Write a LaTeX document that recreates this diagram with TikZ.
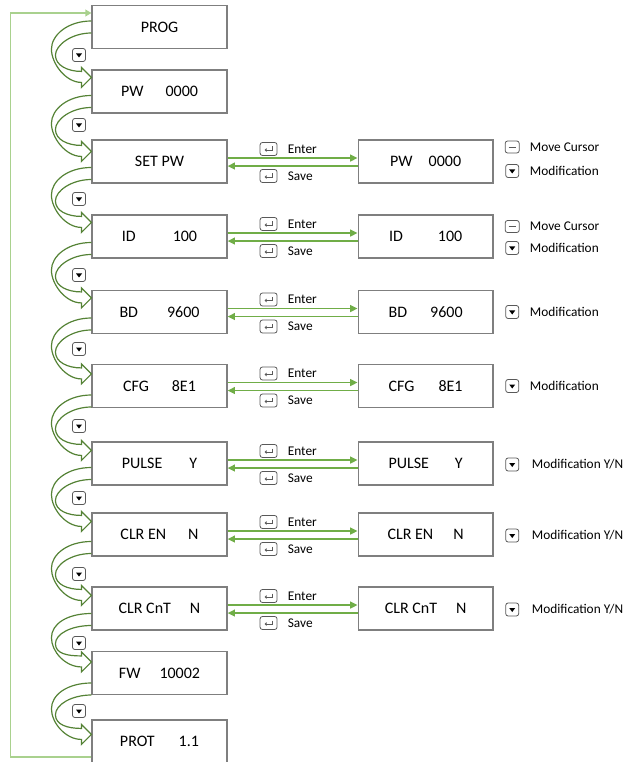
\documentclass[tikz,border=0pt]{standalone}
\usepackage{fontspec}
\setmainfont{Carlito}
\usepackage{tikz}
\usetikzlibrary{positioning, calc, arrows.meta}

\definecolor{boxgray}{HTML}{7F7F7F}
\definecolor{bendgreen}{HTML}{548235}
\definecolor{keygreen}{HTML}{70AD47}
\definecolor{loopgreen}{HTML}{A9D18E}
\definecolor{keygray}{HTML}{595959}

\newcommand{\boxgap}[1]{\hspace{\dimexpr#1pt*3/4\relax}}

\tikzset{
  lbox/.style={draw=boxgray, line width=1.1pt, minimum width=101pt, minimum height=32pt,
    inner sep=0pt, font=\fontsize{12}{14}\selectfont},
  keytext/.style={anchor=west, inner sep=0pt, font=\fontsize{10}{12}\selectfont},
  bendarrow/.style={draw=bendgreen, line width=0.9pt},
  keyarrow/.style={draw=keygreen, line width=1.4pt, -{Triangle[length=5.5pt,width=5pt]}},
  loopline/.style={draw=loopgreen, line width=1.1pt, -{Triangle[length=4.5pt,width=5pt]}},
  keyframe/.style={draw=keygray, line width=0.6pt, rounded corners=1.8pt, fill=white},
  downkey/.pic={\draw[keyframe] (-6.5,-6.5) rectangle (6.5,6.5);
    \fill[black] (-3,-1.5) -- (3,-1.5) -- (0,2.5) -- cycle;},
  enterkey/.pic={\draw[keyframe] (-8.5,-6.5) rectangle (8.5,6.5);
    \draw[keygray, line width=0.5pt] (3.5,-2.5) -- (3.5,1) -- (-2.5,1);
    \fill[keygray] (-4,1) -- (-2,-0.8) -- (-2,2.8) -- cycle;},
  cursorkey/.pic={\draw[keyframe] (-7,-6) rectangle (7,6);
    \draw[keygray, line width=0.6pt] (-3.5,0) -- (3.5,0);},
}

\begin{document}
\begin{tikzpicture}[x=0.75pt, y=-0.75pt]
  \useasboundingbox (0,0) rectangle (624,762);

  \foreach \name/\y/\txt in {prog/27/PROG, pw/91.5/{PW\boxgap{22}0000}, setpw/161.5/SET PW,
      id/236.5/{ID\boxgap{37}100}, bd/312/{BD\boxgap{29}9600}, cfg/386/{CFG\boxgap{23}8E1},
      pulse/463.5/{PULSE\boxgap{27}Y}, clren/534.5/{CLR EN\boxgap{22}N},
      clrcnt/608.5/{CLR CnT\boxgap{19}N}, fw/673/{FW\boxgap{19}10002}, prot/741.5/{PROT\boxgap{24}1.1}}
    \node[lbox] (\name) at (159.5,\y) {\txt};

  \foreach \src/\name/\txt in {setpw/pwedit/{PW\boxgap{16}0000}, id/idedit/{ID\boxgap{35}100},
      bd/bdedit/{BD\boxgap{23}9600}, cfg/cfgedit/{CFG\boxgap{24}8E1}, pulse/pulseedit/{PULSE\boxgap{26}Y},
      clren/clrenedit/{CLR EN\boxgap{20}N}, clrcnt/clrcntedit/{CLR CnT\boxgap{19}N}}
  {
    \node[lbox, right=97.5pt of \src] (\name) {\txt};
    \draw[keyarrow] ([yshift=2.6pt]\src.east) -- ([yshift=2.6pt]\name.west);
    \draw[keyarrow] ([yshift=-3.4pt]\name.west) -- ([yshift=-3.4pt]\src.east);
    \pic at ($(\src.east)+(41,-12.5)$) {enterkey};
    \node[keytext] (enter\src) at ($(\src.east)+(60,-12.5)$) {Enter};
    \pic at ($(\src.east)+(41,14.5)$) {enterkey};
    \node[keytext] (save\src) at ($(\src.east)+(60,14.5)$) {Save};
  }

  \foreach \name/\dy in {pwedit/-14.5, idedit/-10} {
    \pic at ($(\name.east)+(18.5,\dy)$) {cursorkey};
    \node[keytext] (cursor\name) at ($(\name.east)+(36,\dy)$) {Move Cursor};
  }
  \foreach \name/\dy in {pwedit/9.5, idedit/11.5, bdedit/0, cfgedit/0} {
    \pic at ($(\name.east)+(18.5,\dy)$) {downkey};
    \node[keytext] (modify\name) at ($(\name.east)+(36,\dy)$) {Modification};
  }
  \foreach \name in {pulseedit, clrenedit, clrcntedit} {
    \pic at ($(\name.east)+(18.5,1)$) {downkey};
    \node[keytext] (modify\name) at ($(\name.east)+(38,1)$) {Modification Y/N};
  }

  \foreach \y in {55,125,199,275,349,426,498,574,643,711}
    \pic at (79,\y) {downkey};

  \foreach \a/\b/\t/\p in {prog/pw/-6/8, pw/setpw/4/12, setpw/id/6/8, id/bd/6/8, bd/cfg/6/10,
      cfg/pulse/9/9, pulse/clren/4/9, clren/clrcnt/7/9, clrcnt/fw/5/11, fw/prot/10/15}
  {
    \coordinate (t1) at ($(\a.west)+(0,\t)$);
    \coordinate (t2) at ($(t1)+(0,12)$);
    \coordinate (tip) at ($(\b.north west)+(0,\p)$);
    \coordinate (m1) at ($(t1)!.5!(tip)+(-40,0)$);
    \coordinate (m2) at ($(t2)!.5!(tip)+(-36,0)$);
    \draw[bendarrow] (t1) .. controls +(-24,0) and +(0,-14) .. (m1)
      .. controls +(0,14) and +(-16,0) .. ($(tip)+(-10,5)$) -- ($(tip)+(-10,10)$) -- (tip)
      -- ($(tip)+(-10,-10)$) -- ($(tip)+(-10,-6)$)
      .. controls +(-14,0) and +(0,10) .. (m2) .. controls +(0,-10) and +(-20,0) .. (t2);
  }

  \draw[loopline] ([yshift=-11.6pt]prot.west) -- ++(-81,0) |- ([yshift=10.5pt]prog.west);
\end{tikzpicture}
\end{document}
